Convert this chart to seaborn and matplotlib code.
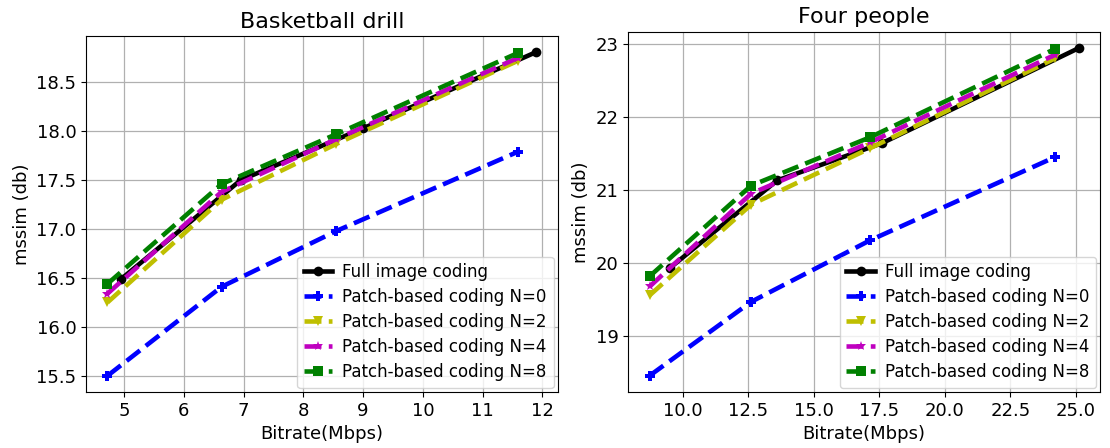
import numpy as np
import pandas as pd
import matplotlib
matplotlib.use("Agg")
import matplotlib.pyplot as plt
import seaborn as sns

# ---- data ----
labels = ["Full image coding", "Patch-based coding N=0", "Patch-based coding N=2",
          "Patch-based coding N=4", "Patch-based coding N=8"]

# Basketball drill
bd_full_x = [4.95, 6.95, 9.0, 11.9]
bd_full_y = [16.49, 17.50, 18.03, 18.81]
bd_patch_x = [4.72, 6.63, 8.55, 11.59]
bd_n0 = [15.50, 16.41, 16.98, 17.79]
bd_n2 = [16.25, 17.30, 17.87, 18.72]
bd_n4 = [16.34, 17.38, 17.92, 18.75]
bd_n8 = [16.44, 17.46, 17.97, 18.80]

# Four people
fp_full_x = [9.5, 13.6, 17.6, 25.1]
fp_full_y = [19.93, 21.13, 21.64, 22.94]
fp_patch_x = [8.74, 12.61, 17.14, 24.2]
fp_n0 = [18.46, 19.47, 20.31, 21.45]
fp_n2 = [19.56, 20.80, 21.57, 22.80]
fp_n4 = [19.68, 20.95, 21.65, 22.85]
fp_n8 = [19.82, 21.06, 21.72, 22.93]

colors = ["black", "blue", "y", "m", "g"]
markers = ["o", "P", "v", "*", "s"]
dashes = ["-", "--", "--", "--", "--"]


def draw(ax, full_x, full_y, patch_x, series, title, yticks):
    xs = [full_x] + [patch_x] * 4
    ys = [full_y] + series
    for lab, x, y, c, m, ls in zip(labels, xs, ys, colors, markers, dashes):
        df = pd.DataFrame({"x": x, "y": y})
        sns.lineplot(data=df, x="x", y="y", ax=ax, color=c, marker=m, linestyle=ls,
                     linewidth=3.3, markersize=7, markeredgewidth=0, label=lab,
                     sort=False)
    ax.set_title(title, fontsize=16)
    ax.set_xlabel("Bitrate(Mbps)", fontsize=13)
    ax.set_ylabel("mssim (db)", fontsize=13)
    ax.set_yticks(yticks)
    ax.tick_params(labelsize=13)
    ax.grid(True, color="#b0b0b0", linewidth=0.9)
    ax.legend(loc="lower right", fontsize=12, handlelength=1.7, labelspacing=0.42,
              borderaxespad=0.25, handletextpad=0.6)


fig = plt.figure(figsize=(11.1, 4.48), dpi=100)
ax1 = fig.add_axes([0.0775, 0.125, 0.425, 0.795])
ax2 = fig.add_axes([0.566, 0.125, 0.425, 0.804])

draw(ax1, bd_full_x, bd_full_y, bd_patch_x, [bd_n0, bd_n2, bd_n4, bd_n8],
     "Basketball drill", [15.5, 16.0, 16.5, 17.0, 17.5, 18.0, 18.5])
ax1.set_xticks([5, 6, 7, 8, 9, 10, 11, 12])

draw(ax2, fp_full_x, fp_full_y, fp_patch_x, [fp_n0, fp_n2, fp_n4, fp_n8],
     "Four people", [19, 20, 21, 22, 23])
ax2.set_xticks([10.0, 12.5, 15.0, 17.5, 20.0, 22.5, 25.0])
ax2.set_xticklabels(["10.0", "12.5", "15.0", "17.5", "20.0", "22.5", "25.0"])

fig.savefig("out.png", dpi=100)
